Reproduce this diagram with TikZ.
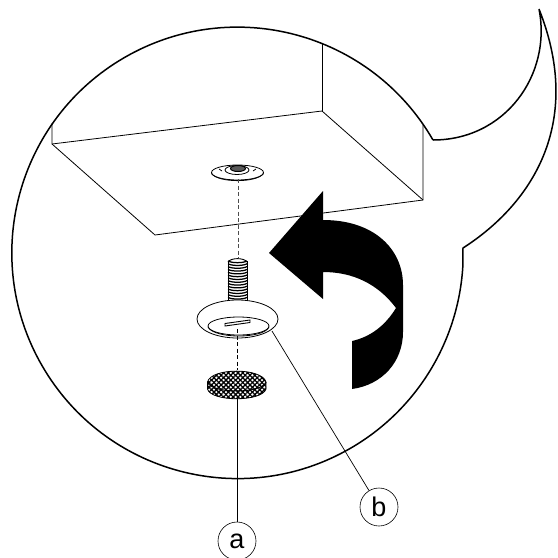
\documentclass[tikz,border=0pt]{standalone}
\usepackage{fontspec}
\setmainfont{Liberation Sans}
\usetikzlibrary{patterns.meta}
\tikzset{
 bubbleline/.style={draw=black,line width=1.5pt,line join=miter},
 thin line/.style={draw=black,line width=0.8pt},
 part/.style={draw=black,line width=0.8pt,fill=white},
 leader/.style={draw=black,line width=0.7pt},
 callout/.style={circle,draw=black,line width=0.6pt,minimum size=38pt,inner sep=0pt,font=\fontsize{27}{27}\selectfont},
 dashline/.style={draw=black!70,line width=1pt,dash pattern=on 4pt off 2.5pt},
}
\begin{document}
\begin{tikzpicture}[x=1pt,y=-1pt]
\useasboundingbox (0,0) rectangle (558,558);
% box
\draw[thin line] (52,123) -- (52,144) -- (155,235) -- (423,200) -- (423,125);
\draw[thin line] (52,144) -- (322,111) -- (423,200);
\draw[thin line] (322,44) -- (322,111);
% bubble
\draw[bubbleline] (433,140) arc[start angle=30.0,end angle=357,radius=225.7pt]
  -- (463,248) .. controls (530,205) and (585,125) .. (539,9)
  .. controls (552,75) and (505,140) .. (433,140);
% nut
\draw[part] (237.5,172.5) ellipse[x radius=26,y radius=7.5];
\draw[thin line] (211.5,173.5) .. controls (218,183) and (257,183) .. (263.5,173.5);
\draw[part] (237,170) ellipse[x radius=12,y radius=4.5];
\draw[draw=black,fill=black!65,line width=1pt] (238,168.5) ellipse[x radius=7.5,y radius=3];
\draw[thin line] (219,169) -- (222,171) (256,169) -- (253,171);
% dashes
\coordinate (d1) at (238,179);
\coordinate (d2) at (238,258);
\draw[dashline] (d1) -- (d2);
% screw
\fill[white] (228,260) rectangle (247,301);
\foreach \y in {261,263.8,...,300}{
  \draw[black,line width=1.25pt] (228,\y) .. controls (232,\y+2.2) and (243,\y+2.2) .. (247,\y);
}
\draw[thin line] (228,261) -- (228,301) (247,261) -- (247,301);
\draw[black,line width=0.9pt] (228,262) .. controls (231,257.5) and (244,257.5) .. (247,262);
% washer
\draw[part] (237.5,319) ellipse[x radius=40.5,y radius=19];
\draw[part] (238.5,326) ellipse[x radius=30.5,y radius=9];
\draw[thin line] (208,327) .. controls (214,339) and (264,339) .. (269,327);
\draw[part,line width=0.9pt] (225,323.5) -- (250,320) -- (250,322.5) -- (225,326) -- cycle;
\coordinate (d3) at (237,329);
\coordinate (d4) at (237,370);
\draw[black,line width=0.7pt,dash pattern=on 4pt off 2.5pt] (d3) -- (d4);
% cap
\path[fill=black!25,pattern={Lines[angle=45,distance=3.4pt,line width=1.3pt]},pattern color=black] (207.5,382) -- (207.5,389)
   .. controls (211,402) and (262,402) .. (266,389) -- (266,382)
   .. controls (262,367.5) and (211,367.5) .. (207.5,382) -- cycle;
\draw[thin line,pattern={Lines[angle=-45,distance=3.4pt,line width=1.3pt]},pattern color=black] (207.5,382) -- (207.5,389)
   .. controls (211,402) and (262,402) .. (266,389) -- (266,382)
   .. controls (262,367.5) and (211,367.5) .. (207.5,382) -- cycle;
\draw[draw=black,line width=1pt] (207.5,382) .. controls (211,394) and (262,394) .. (266,382);
% arrow
\fill[black] (269,253) -- (323,191) -- (323,220)
  .. controls (375,220) and (403,250) .. (403,285) -- (403,332)
  .. controls (403,362) and (382,385) .. (352,389) -- (352,341)
  .. controls (370,337) and (385,326) .. (396,308)
  .. controls (378,284) and (353,272) .. (323,272) -- (323,299) -- cycle;
% callouts
\node[callout] (a) at (237,541) {a};
\node[callout] (b) at (379,507) {b};
\coordinate (capend) at (237,398);
\coordinate (washerend) at (272,331);
\draw[leader] (capend) -- (a);
\draw[leader] (washerend) -- (b);
\end{tikzpicture}
\end{document}
